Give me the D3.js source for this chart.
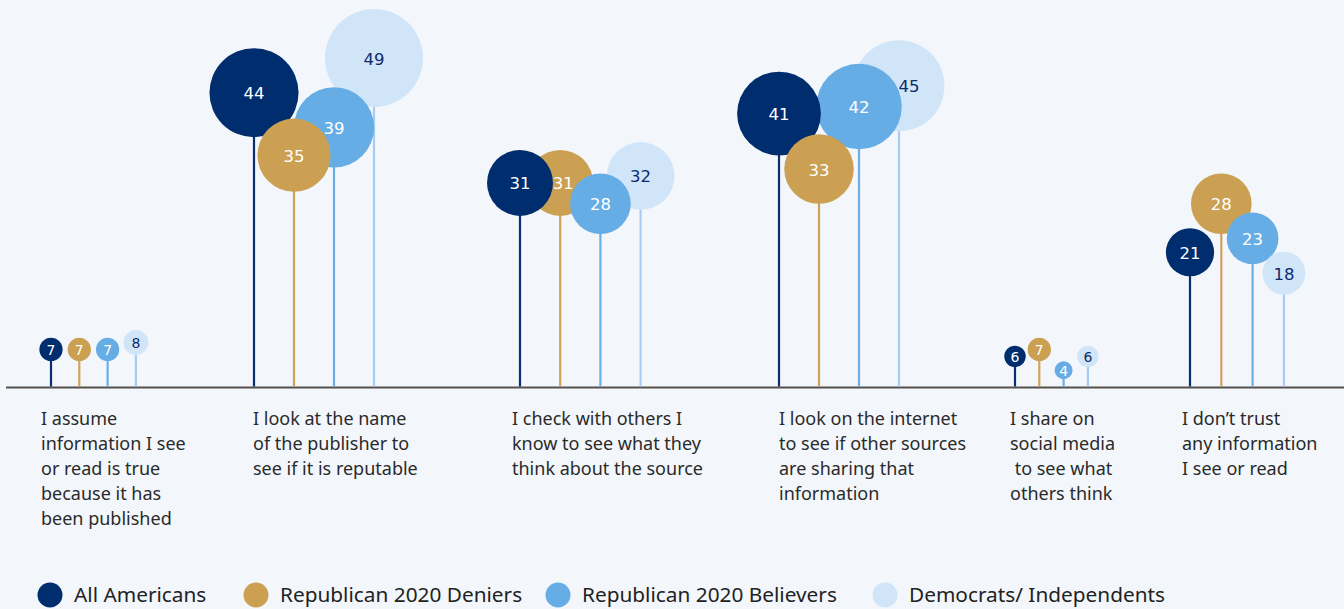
<!DOCTYPE html>
<html>
<head>
<meta charset="utf-8">
<script src="https://cdn.jsdelivr.net/npm/d3@7"></script>
<style>
  html, body { margin: 0; padding: 0; background: #f3f7fc; }
  svg { display: block; }
  .lbl { font-family: "Noto Sans", sans-serif; font-size: 18px; fill: #2a2a2a; white-space: pre; }
  .num { font-family: "DejaVu Sans", sans-serif; text-anchor: middle; dominant-baseline: central; }
  .leg { font-family: "Noto Sans", sans-serif; font-size: 20.8px; fill: #222; }
</style>
</head>
<body>
<svg id="chart" width="1344" height="609"></svg>
<script>
// Survey responses: how people check whether information is reliable (%)
const categories = [
  ["I assume", "information I see", "or read is true", "because it has", "been published"],
  ["I look at the name", "of the publisher to", "see if it is reputable"],
  ["I check with others I", "know to see what they", "think about the source"],
  ["I look on the internet", "to see if other sources", "are sharing that", "information"],
  ["I share on", "social media", " to see what", "others think"],
  ["I don\u2019t trust", "any information", "I see or read"]
];
const seriesNames = ["All Americans", "Republican 2020 Deniers", "Republican 2020 Believers", "Democrats/ Independents"];
const allAmericans = [7, 44, 31, 41, 6, 21];
const deniers      = [7, 35, 31, 33, 7, 28];
const believers    = [7, 39, 28, 42, 4, 23];
const demsInds     = [8, 49, 32, 45, 6, 18];

// Presentation settings
const fills  = ["#002d6e", "#cba052", "#67ade5", "#d1e5f8"];
const stems  = ["#0a2d6c", "#cfa25a", "#6aaee6", "#a6cdf1"];
const textFill = ["#ffffff", "#ffffff", "#ffffff", "#0d2c6c"];
const groupLabelX = [41, 253, 512, 779, 1010, 1182];
const groupStemX  = [51, 254, 520, 779, 1015, 1190];
const groupStep   = [28.3, 40, 40.2, 40, 24.3, 31.3];
const valueLabelShift = [{ g: 3, si: 3, dx: 10 }, { g: 2, si: 1, dx: 3 }];
const legendX = [50, 256, 558, 885];
const baselineY = 387.5;

const svg = d3.select("#chart");
const W = 1344;

const y = d3.scaleLinear().domain([0, 49]).range([398, 58]);
const r = d3.scaleLinear().domain([0, 49]).range([5.4, 49]);
const groupX = d3.scaleOrdinal().domain(d3.range(categories.length)).range(groupStemX);
const labelX = d3.scaleOrdinal().domain(d3.range(categories.length)).range(groupLabelX);
const color = d3.scaleOrdinal().domain(seriesNames).range(fills);
const stemColor = d3.scaleOrdinal().domain(seriesNames).range(stems);
const txtColor = d3.scaleOrdinal().domain(seriesNames).range(textFill);

const seriesValues = [allAmericans, deniers, believers, demsInds];
const points = [];
categories.forEach((c, gi) => {
  const inner = d3.scalePoint().domain(seriesNames).range([0, 3 * groupStep[gi]]);
  seriesNames.forEach((s, si) => {
    const v = seriesValues[si][gi];
    const shift = valueLabelShift.find(o => o.g === gi && o.si === si);
    points.push({ g: gi, s, si, v, x: groupX(gi) + inner(s), dx: shift ? shift.dx : 0 });
  });
});

// baseline
svg.append("line")
  .attr("x1", 6).attr("x2", W)
  .attr("y1", baselineY).attr("y2", baselineY)
  .attr("stroke", "#55504b").attr("stroke-width", 2);

// stems
svg.append("g").selectAll("line").data(points).join("line")
  .attr("x1", d => d.x).attr("x2", d => d.x)
  .attr("y1", baselineY - 1).attr("y2", d => y(d.v))
  .attr("stroke", d => stemColor(d.s)).attr("stroke-width", 2.2);

// bubbles: larger ones behind smaller ones
const order = points.slice().sort((a, b) => d3.descending(a.v, b.v) || d3.descending(a.si, b.si));
svg.append("g").selectAll("circle").data(order).join("circle")
  .attr("cx", d => d.x).attr("cy", d => y(d.v))
  .attr("r", d => r(d.v))
  .attr("fill", d => color(d.s));

// value labels on top of all bubbles
svg.append("g").selectAll("text").data(order).join("text")
  .attr("class", "num")
  .attr("x", d => d.x + d.dx).attr("y", d => y(d.v) + 1)
  .attr("font-size", d => r(d.v) < 15 ? 14 : 16.5)
  .attr("fill", d => txtColor(d.s))
  .text(d => d.v);

// category labels
const lab = svg.append("g").selectAll("text").data(categories).join("text")
  .attr("class", "lbl")
  .attr("x", (d, i) => labelX(i))
  .attr("y", 425);
lab.selectAll("tspan").data(d => d).join("tspan")
  .attr("x", function () { return this.parentNode.getAttribute("x"); })
  .attr("dy", (d, i) => i === 0 ? 0 : 25)
  .text(d => d);

// legend
const legendPos = d3.scaleOrdinal().domain(seriesNames).range(legendX);
const leg = svg.append("g").selectAll("g").data(seriesNames).join("g")
  .attr("transform", d => `translate(${legendPos(d)},595)`);
leg.append("circle").attr("r", 12.5).attr("fill", d => color(d));
leg.append("text").attr("class", "leg").attr("x", 24).attr("y", 7).text(d => d);
</script>
</body>
</html>
